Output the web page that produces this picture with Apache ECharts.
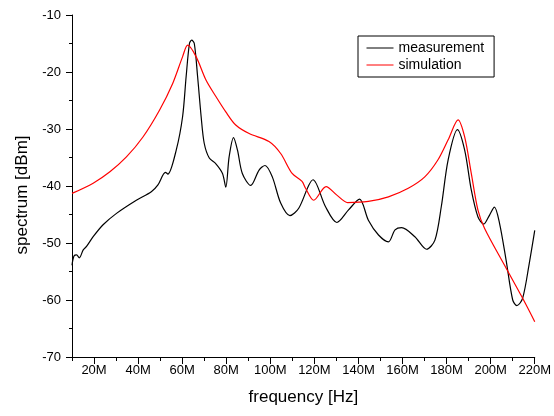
<!DOCTYPE html>
<html>
<head>
<meta charset="utf-8">
<title>spectrum</title>
<script src="https://cdn.jsdelivr.net/npm/echarts@6/dist/echarts.min.js"></script>
<style>
body{margin:0;background:#fff;}
#main{width:554px;height:416px;}
</style>
</head>
<body>
<div id="main"></div>
<script>
// frequency in MHz, level in dBm
var freqMeas = [10.0, 10.9, 12.1, 13.3, 15.1, 16.6, 19.6, 24.1, 30.2, 39.2, 46.0, 49.0, 52.4, 53.5, 57.3, 60.2, 61.8, 63.3, 64.3, 65.5,
	67.0, 68.6, 70.0, 72.3, 75.3, 78.3, 79.8, 81.3, 83.3, 85.1, 87.3, 91.1, 94.9, 97.6, 100.9, 104.7, 108.9, 112.9, 117.4, 119.4,
	125.0, 130.2, 135.5, 140.5, 144.5, 149.1, 153.6, 156.6, 159.6, 165.6, 170.9, 174.7, 177.6, 180.7, 184.9, 188.2, 191.2, 194.2, 196.8, 199.5,
	201.7, 204.0, 207.0, 210.0, 211.9, 214.5, 217.5, 220.0];
var measurement = [-53.9, -52.3, -52.1, -52.6, -51.2, -50.6, -48.9, -46.8, -44.8, -42.5, -41.0, -39.8, -37.6, -37.9, -33.7, -27.8, -20.8, -15.0, -14.4, -15.0,
	-20.8, -27.8, -32.5, -35.1, -36.1, -37.8, -40.2, -34.9, -31.5, -33.7, -37.8, -39.9, -37.2, -36.4, -38.4, -43.0, -45.2, -43.9, -39.9, -38.9,
	-43.6, -46.4, -44.2, -42.3, -46.0, -48.6, -49.8, -47.7, -47.3, -48.9, -51.1, -49.5, -43.6, -35.4, -30.1, -33.7, -40.7, -45.4, -46.7, -45.1,
	-43.7, -46.5, -53.0, -60.0, -61.0, -59.7, -53.6, -47.8];

var freqSim = [10, 19.6, 27.2, 34.7, 42.2, 49.7, 55.7, 60.2, 62.5, 66.3, 70.8, 75.3, 79.8, 84.3, 90.4, 99.4, 104.7, 109.9, 114.4, 116.0,
	119.7, 125.3, 130.2, 135.1, 144.5, 153.6, 162.6, 170.1, 176.1, 180.7, 185.2, 188.2, 191.2, 194.2, 197.2, 206.3, 214.1, 220.0];
var simulation = [-41.3, -39.5, -37.5, -34.9, -31.4, -26.7, -22.0, -17.3, -15.3, -17.3, -21.4, -24.3, -27.0, -29.3, -30.8, -32.2, -34.3, -37.8, -39.2, -40.4,
	-42.5, -40.1, -41.6, -42.9, -42.7, -41.9, -40.4, -38.4, -35.4, -31.9, -28.4, -31.4, -37.8, -44.2, -47.4, -53.9, -59.4, -63.8];

var font = "'Liberation Sans', Arial, sans-serif";

function pairs(xs, ys){
	var out = [];
	for (var i = 0; i < xs.length; i++) out.push([xs[i], ys[i]]);
	return out;
}

var myChart = echarts.init(document.getElementById('main'));
var option = {
	animation: false,
	textStyle: {fontFamily: font, color: '#000'},
	grid: {left: 72, right: 17, top: 15, bottom: 59},
	legend: {
		left: 358, top: 36,
		orient: 'vertical',
		padding: [5, 10, 5, 8],
		itemWidth: 27, itemHeight: 14, itemGap: 3,
		borderColor: '#000', borderWidth: 1,
		itemStyle: {opacity: 0},   // hide the dot, keep the line sample
		lineStyle: {width: 1},
		textStyle: {fontSize: 14, color: '#000', fontFamily: font},
		data: ['measurement', 'simulation']
	},
	xAxis: [{
		// data axis: 10M steps, short ticks
		type: 'value', min: 10, max: 220, interval: 10,
		name: 'frequency [Hz]', nameLocation: 'middle', nameGap: 32,
		nameTextStyle: {fontSize: 17, color: '#000', fontFamily: font},
		axisLine: {lineStyle: {color: '#000', width: 1}},
		axisTick: {length: 4, lineStyle: {color: '#000'}},
		axisLabel: {show: false},
		splitLine: {show: false}
	}, {
		// long ticks + labels at 20M, 40M ... (inverted so counting starts at 220)
		type: 'value', min: -220, max: -10, interval: 20, inverse: true,
		position: 'bottom',
		axisLine: {show: false},
		axisTick: {length: 7, lineStyle: {color: '#000'}},
		axisLabel: {
			margin: 7, fontSize: 13, color: '#000', fontFamily: font,
			showMaxLabel: false,
			formatter: function(v){ return (v % 20 === 0) ? (-v) + 'M' : ''; }
		},
		splitLine: {show: false}
	}],
	yAxis: {
		type: 'value', min: -70, max: -10, interval: 10,
		name: 'spectrum [dBm]', nameLocation: 'middle', nameGap: 40,
		nameTextStyle: {fontSize: 17, color: '#000', fontFamily: font, padding: [0, 18, 0, 0]},
		axisLine: {show: true, lineStyle: {color: '#000', width: 1}},
		axisTick: {show: true, length: 6, lineStyle: {color: '#000'}},
		minorTick: {show: true, splitNumber: 2, length: 3, lineStyle: {color: '#000'}},
		axisLabel: {margin: 11, fontSize: 13, color: '#000', fontFamily: font},
		splitLine: {show: false}
	},
	series: [{
		name: 'measurement', type: 'line', xAxisIndex: 0,
		symbol: 'none', smooth: 0.3,
		lineStyle: {color: '#000', width: 1.2},
		itemStyle: {color: '#000'},
		data: pairs(freqMeas, measurement)
	}, {
		name: 'simulation', type: 'line', xAxisIndex: 0,
		symbol: 'none', smooth: 0.3,
		lineStyle: {color: '#ff0000', width: 1.2},
		itemStyle: {color: '#ff0000'},
		data: pairs(freqSim, simulation)
	}]
};
myChart.setOption(option);
</script>
</body>
</html>
